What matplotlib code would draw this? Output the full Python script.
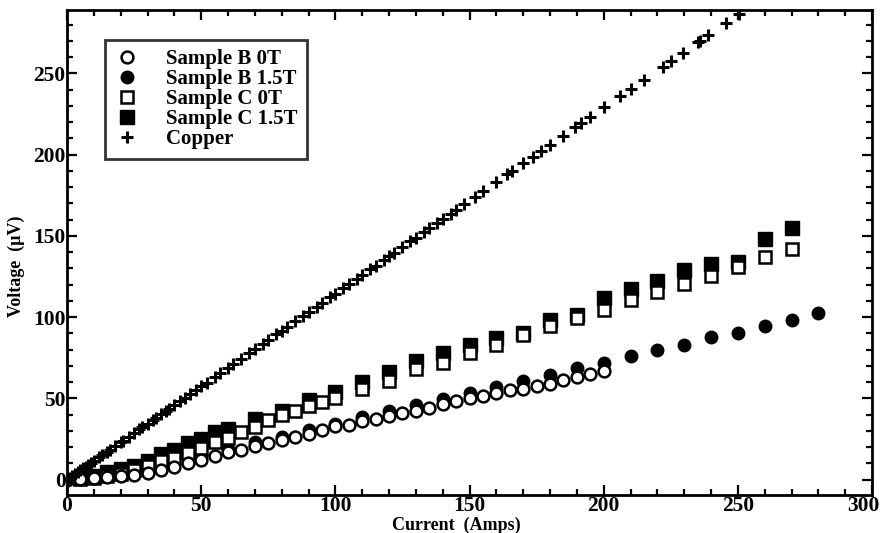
import matplotlib
matplotlib.use("Agg")
import matplotlib.pyplot as plt
from matplotlib.ticker import MultipleLocator
from matplotlib.transforms import ScaledTranslation

plt.rcParams['font.family'] = ['Liberation Serif', 'DejaVu Serif']

# ---- data ----
b0_x = [0, 5, 10, 15, 20, 25, 30, 35, 40, 45, 50, 55, 60, 65, 70, 75, 80, 85, 90, 95,
        100, 105, 110, 115, 120, 125, 130, 135, 140, 145, 150, 155, 160, 165, 170, 175,
        180, 185, 190, 195, 200]
b0_y = [0, 0.5, 1.0, 1.6, 2.3, 3.0, 4.1, 6.1, 7.8, 10.2, 12.3, 14.8, 16.8, 18.5, 20.5,
        22.2, 24.2, 26.0, 28.1, 30.3, 32.7, 33.5, 35.8, 37.0, 39.0, 41.0, 42.1, 44.1,
        46.2, 48.2, 50.5, 51.5, 53.0, 55.0, 56.0, 57.8, 59.0, 61.0, 63.2, 65.0, 67.0]

b15_x = [10, 20, 30, 40, 50, 60, 70, 80, 90, 100, 110, 120, 130, 140, 150, 160, 170,
         180, 190, 200, 210, 220, 230, 240, 250, 260, 270, 280]
b15_y = [1.5, 3.5, 6.5, 10.5, 14.5, 19.0, 23.0, 26.5, 30.5, 34.5, 38.5, 42.0, 46.0,
         49.5, 53.0, 57.0, 60.5, 64.5, 68.5, 72.0, 76.0, 79.5, 83.0, 87.5, 90.5, 94.5,
         98.5, 102.5]

c0_x = [5, 10, 15, 20, 25, 30, 35, 40, 45, 50, 55, 60, 65, 70, 75, 80, 85, 90, 95, 100,
        110, 120, 130, 140, 150, 160, 170, 180, 190, 200, 210, 220, 230, 240, 250, 260, 270]
c0_y = [0.5, 1.0, 2.0, 3.5, 6.0, 8.5, 11.5, 13.5, 16.5, 19.5, 23.0, 25.5, 29.5, 32.5,
        36.5, 40.0, 42.0, 45.0, 47.5, 50.0, 55.5, 60.5, 68.0, 72.0, 78.0, 83.0, 89.0,
        94.5, 99.5, 104.5, 110.5, 115.5, 120.5, 125.5, 131.0, 137.0, 142.0]

c15_x = [5, 10, 15, 20, 25, 30, 35, 40, 45, 50, 55, 60, 70, 80, 90, 100, 110, 120, 130,
         140, 150, 160, 170, 180, 190, 200, 210, 220, 230, 240, 250, 260, 270]
c15_y = [1.0, 2.5, 4.5, 6.5, 8.5, 11.5, 15.5, 18.5, 22.5, 25.0, 29.0, 31.0, 37.5, 42.5,
         49.0, 54.0, 60.0, 66.0, 73.0, 78.0, 83.0, 87.0, 90.5, 98.0, 101.5, 112.0,
         117.5, 122.0, 129.0, 132.5, 134.0, 148.0, 155.0]

cu_x = [0, 1, 2, 3, 4, 5, 6, 7, 8, 9, 10, 12, 13, 15, 16, 18, 20, 21, 23, 25, 27, 28,
        30, 32, 33, 35, 37, 38, 40, 42, 44, 46, 48, 50, 52, 55, 57, 60, 62, 65, 68, 70,
        73, 75, 78, 80, 82, 85, 88, 90, 93, 95, 98, 100, 103, 105, 108, 110, 113, 115,
        118, 120, 122, 125, 128, 130, 133, 135, 138, 140, 143, 145, 148, 152, 155, 160,
        164, 166, 170, 173.5, 176.5, 180, 184.7, 189.5, 191.4, 195, 200, 206, 210, 215,
        222, 225, 229.5, 235, 236, 239, 245.5, 250.4]
cu_y = [0, 1.1, 2.3, 3.4, 4.6, 5.7, 6.9, 8.0, 9.2, 10.3, 11.5, 13.7, 14.9, 17.2, 18.3,
        20.6, 22.9, 24.0, 26.3, 28.6, 30.9, 32.1, 34.4, 36.6, 37.8, 40.1, 42.4, 43.5,
        45.8, 48.1, 50.4, 52.7, 55.0, 57.3, 59.5, 63.0, 65.3, 68.7, 71.0, 74.4, 77.9,
        80.2, 83.6, 85.9, 89.3, 91.6, 93.9, 97.3, 100.8, 103.1, 106.5, 108.8, 112.2,
        114.5, 117.9, 120.2, 123.7, 126.0, 129.4, 131.7, 135.1, 137.4, 139.7, 143.1,
        146.6, 148.9, 152.3, 154.6, 158.0, 160.3, 163.7, 166.0, 169.5, 174.0, 177.5,
        183.2, 187.8, 190.1, 194.7, 198.7, 202.1, 206.1, 211.5, 217.0, 219.2, 223.3,
        229.0, 235.9, 240.5, 246.2, 254.2, 257.6, 262.8, 269.1, 270.2, 273.7, 281.1,
        286.7]

x_ticks = [0, 50, 100, 150, 200, 250, 300]
y_ticks = [0, 50, 100, 150, 200, 250]

labels = ["Sample B 0T", "Sample B 1.5T", "Sample C 0T", "Sample C 1.5T", "Copper"]

fig = plt.figure(figsize=(8.84, 5.33), dpi=100)
ax = fig.add_axes([67 / 884, 1 - 495 / 533, 805 / 884, 485 / 533])

h_c15, = ax.plot(c15_x, c15_y, ls='none', marker='s', ms=9.5, mfc='black', mec='black',
                 zorder=2)
h_b15, = ax.plot(b15_x, b15_y, ls='none', marker='o', ms=9, mfc='black', mec='black',
                 zorder=2)
h_c0, = ax.plot(c0_x, c0_y, ls='none', marker='s', ms=9, mfc='white', mec='black',
                mew=1.8, zorder=3)
h_b0, = ax.plot(b0_x, b0_y, ls='none', marker='o', ms=8.5, mfc='white', mec='black',
                mew=1.8, zorder=3)
h_cu, = ax.plot(cu_x, cu_y, ls='none', marker='+', ms=8, mec='black', mew=2.2,
                zorder=4)

ax.set_xlim(0, 300)
ax.set_ylim(-9.5, 289)
ax.set_xticks(x_ticks)
ax.set_yticks(y_ticks)
ax.xaxis.set_minor_locator(MultipleLocator(10))
ax.yaxis.set_minor_locator(MultipleLocator(10))
ax.tick_params(which='both', direction='in', top=True, right=True, width=1.6,
               labelsize=15.5)
ax.tick_params(axis='x', pad=1)
ax.tick_params(axis='y', pad=1)
ax.tick_params(which='major', length=7)
ax.tick_params(which='minor', length=4)
for s in ax.spines.values():
    s.set_linewidth(2.0)

ax.set_xlabel("Current  (Amps)", fontsize=13, fontweight='bold')
ax.set_ylabel("Voltage  (μV)", fontsize=13, fontweight='bold')
ax.xaxis.set_label_coords(0.483, -0.045)
ax.yaxis.set_label_coords(-0.052, 0.472)

leg = ax.legend([h_b0, h_b15, h_c0, h_c15, h_cu], labels,
                loc='upper left', bbox_to_anchor=(0.047, 0.938), borderaxespad=0,
                fancybox=False, frameon=True, edgecolor='black', handlelength=1.2,
                handletextpad=1.3, labelspacing=0.0, borderpad=0.45,
                prop={'weight': 'bold', 'size': 15})
leg.get_frame().set_linewidth(2.0)

fig.canvas.draw()
for lab in ax.get_xticklabels() + ax.get_yticklabels():
    lab.set_fontweight('bold')
for tick in ax.xaxis.get_major_ticks():
    if abs(tick.get_loc() - x_ticks[-1]) < 1e-9:
        tick.label1.set_transform(tick.label1.get_transform() +
                                  ScaledTranslation(-6 / 72, 0, fig.dpi_scale_trans))

fig.savefig("out.png", dpi=100)
